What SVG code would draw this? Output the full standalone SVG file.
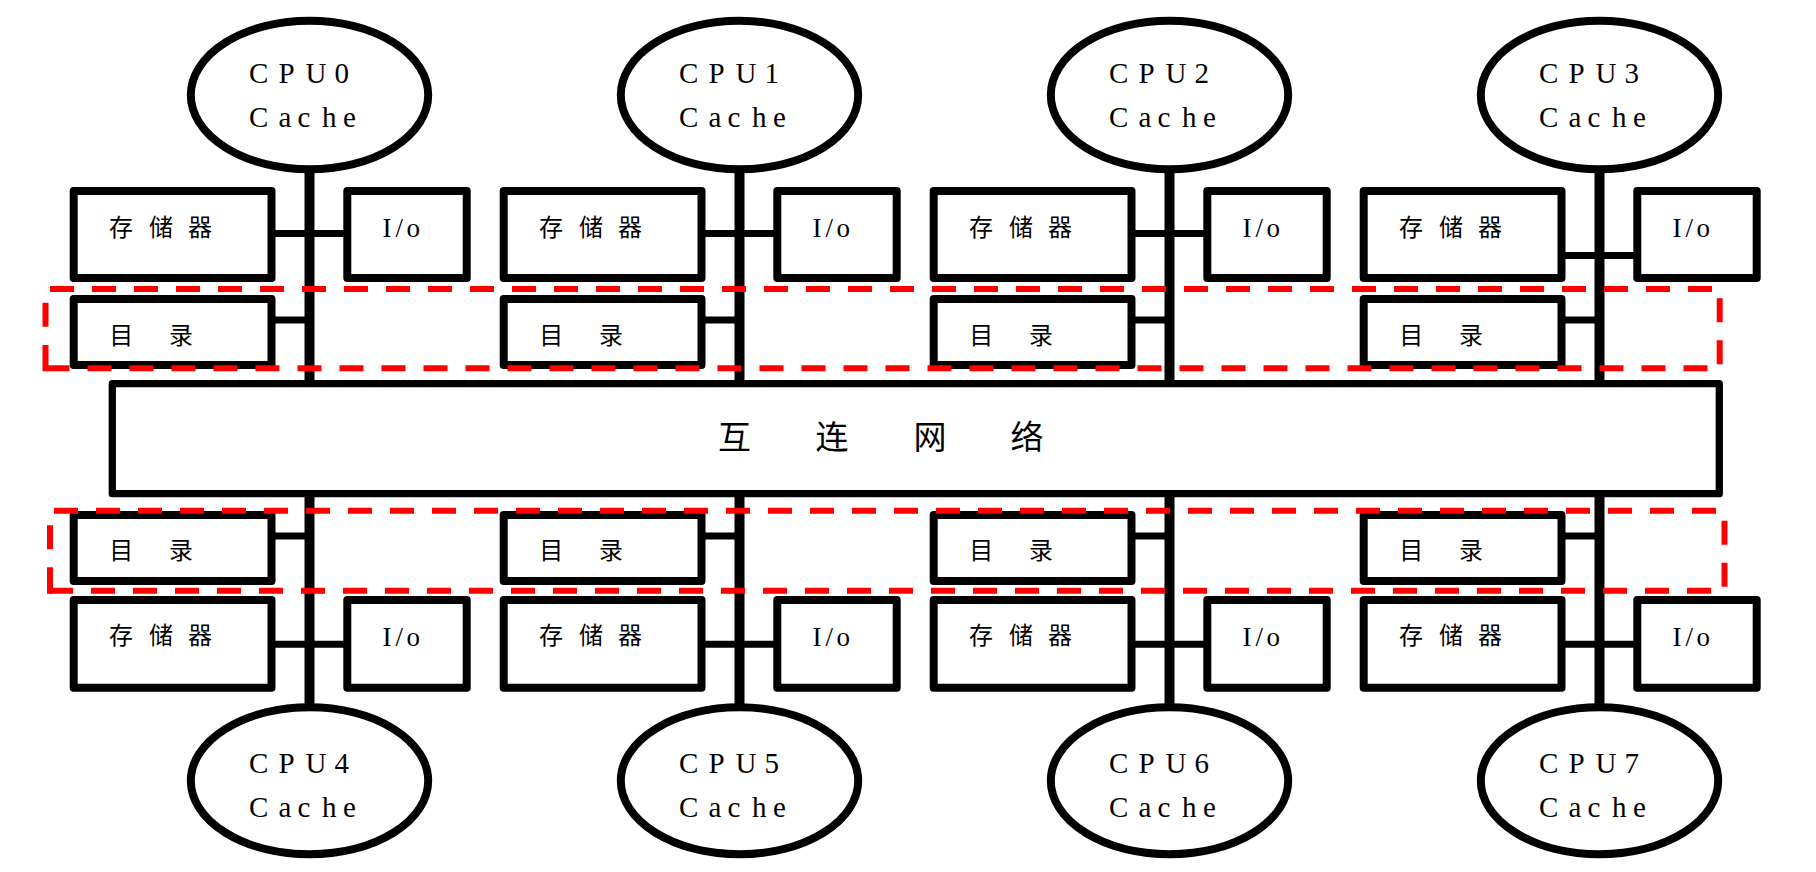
<svg xmlns="http://www.w3.org/2000/svg" width="1816" height="872" viewBox="0 0 1816 872">
<style>
.box{fill:#fff;stroke:#000;stroke-width:8;stroke-linejoin:round}
.net{fill:#fff;stroke:#000;stroke-width:7.3;stroke-linejoin:round}
.cpu{fill:#fff;stroke:#000;stroke-width:8}
.bus{stroke:#000;stroke-width:10;fill:none}
.wire{stroke:#000;stroke-width:7;fill:none}
.dash{stroke:#ff0000;stroke-width:6;fill:none;stroke-dasharray:24 18}
.lat{font-family:"Liberation Serif","Times New Roman",serif;fill:#000}
.cpu-t{font-size:29px}
.io-t{font-size:27px}
.cjk{font-family:"Noto Sans CJK SC","Noto Sans",sans-serif;fill:#000;font-size:24px}
.big{font-size:33px}
</style>
<rect width="1816" height="872" fill="#fff"/>
<g id="connectors">
  <path class="bus" d="M309.5 169 V384 M739.5 169 V384 M1169.5 169 V384 M1599.5 169 V384"/>
  <path class="bus" d="M309.5 493.7 V708 M739.5 493.7 V708 M1169.5 493.7 V708 M1599.5 493.7 V708"/>
  <path class="wire" d="M271.5 233.5 H347.3 M701.5 233.5 H777.3 M1131.5 233.5 H1207.3 M1561.5 255.5 H1637.3"/>
  <path class="wire" d="M271.5 320 H309.5 M701.5 320 H739.5 M1131.5 320 H1169.5 M1561.5 320 H1599.5"/>
  <path class="wire" d="M271.5 536 H309.5 M701.5 536 H739.5 M1131.5 536 H1169.5 M1561.5 536 H1599.5"/>
  <path class="wire" d="M271.5 644.3 H347.3 M701.5 644.3 H777.3 M1131.5 644.3 H1207.3 M1561.5 644.3 H1637.3"/>
</g>
<g id="network">
  <rect class="net" x="112.3" y="383.7" width="1607" height="110"/>
  <text class="cjk big" x="718 815.5 913.5 1010.5" y="449">互连网络</text>
</g>
<g id="cpu0"><ellipse class="cpu" cx="309.5" cy="95" rx="118.7" ry="74.3"/><text class="lat cpu-t" x="249 278.5 305.5 334.5" y="82.7">CPU0</text><text class="lat cpu-t" x="249 278.5 297.5 322 343" y="126.7">Cache</text></g>
<g id="cpu1"><ellipse class="cpu" cx="739.5" cy="95" rx="118.7" ry="74.3"/><text class="lat cpu-t" x="679 708.5 735.5 764.5" y="82.7">CPU1</text><text class="lat cpu-t" x="679 708.5 727.5 752 773" y="126.7">Cache</text></g>
<g id="cpu2"><ellipse class="cpu" cx="1169.5" cy="95" rx="118.7" ry="74.3"/><text class="lat cpu-t" x="1109 1138.5 1165.5 1194.5" y="82.7">CPU2</text><text class="lat cpu-t" x="1109 1138.5 1157.5 1182 1203" y="126.7">Cache</text></g>
<g id="cpu3"><ellipse class="cpu" cx="1599.5" cy="95" rx="118.7" ry="74.3"/><text class="lat cpu-t" x="1539 1568.5 1595.5 1624.5" y="82.7">CPU3</text><text class="lat cpu-t" x="1539 1568.5 1587.5 1612 1633" y="126.7">Cache</text></g>
<g id="cpu4"><ellipse class="cpu" cx="309.5" cy="780.8" rx="118.7" ry="73.5"/><text class="lat cpu-t" x="249 278.5 305.5 334.5" y="773.3">CPU4</text><text class="lat cpu-t" x="249 278.5 297.5 322 343" y="816.7">Cache</text></g>
<g id="cpu5"><ellipse class="cpu" cx="739.5" cy="780.8" rx="118.7" ry="73.5"/><text class="lat cpu-t" x="679 708.5 735.5 764.5" y="773.3">CPU5</text><text class="lat cpu-t" x="679 708.5 727.5 752 773" y="816.7">Cache</text></g>
<g id="cpu6"><ellipse class="cpu" cx="1169.5" cy="780.8" rx="118.7" ry="73.5"/><text class="lat cpu-t" x="1109 1138.5 1165.5 1194.5" y="773.3">CPU6</text><text class="lat cpu-t" x="1109 1138.5 1157.5 1182 1203" y="816.7">Cache</text></g>
<g id="cpu7"><ellipse class="cpu" cx="1599.5" cy="780.8" rx="118.7" ry="73.5"/><text class="lat cpu-t" x="1539 1568.5 1595.5 1624.5" y="773.3">CPU7</text><text class="lat cpu-t" x="1539 1568.5 1587.5 1612 1633" y="816.7">Cache</text></g>
<g id="mem0"><rect class="box" x="73.7" y="191" width="197.8" height="87"/><text class="cjk" x="109 149 188" y="235.5">存储器</text></g>
<g id="mem1"><rect class="box" x="503.7" y="191" width="197.8" height="87"/><text class="cjk" x="539 579 618" y="235.5">存储器</text></g>
<g id="mem2"><rect class="box" x="933.7" y="191" width="197.8" height="87"/><text class="cjk" x="969 1009 1048" y="235.5">存储器</text></g>
<g id="mem3"><rect class="box" x="1363.7" y="191" width="197.8" height="87"/><text class="cjk" x="1399 1439 1478" y="235.5">存储器</text></g>
<g id="io0"><rect class="box" x="347.3" y="191" width="119.4" height="87"/><text class="lat io-t" x="382.5 395.5 406.5" y="237.3">I/o</text></g>
<g id="io1"><rect class="box" x="777.3" y="191" width="119.4" height="87"/><text class="lat io-t" x="812.5 825.5 836.5" y="237.3">I/o</text></g>
<g id="io2"><rect class="box" x="1207.3" y="191" width="119.4" height="87"/><text class="lat io-t" x="1242.5 1255.5 1266.5" y="237.3">I/o</text></g>
<g id="io3"><rect class="box" x="1637.3" y="191" width="119.4" height="87"/><text class="lat io-t" x="1672.5 1685.5 1696.5" y="237.3">I/o</text></g>
<g id="dir0"><rect class="box" x="73.7" y="299" width="197.8" height="66"/><text class="cjk" x="109.3 169" y="343.5">目录</text></g>
<g id="dir1"><rect class="box" x="503.7" y="299" width="197.8" height="66"/><text class="cjk" x="539.3 599" y="343.5">目录</text></g>
<g id="dir2"><rect class="box" x="933.7" y="299" width="197.8" height="66"/><text class="cjk" x="969.3 1029" y="343.5">目录</text></g>
<g id="dir3"><rect class="box" x="1363.7" y="299" width="197.8" height="66"/><text class="cjk" x="1399.3 1459" y="343.5">目录</text></g>
<g id="dir4"><rect class="box" x="73.7" y="515" width="197.8" height="66"/><text class="cjk" x="109.3 169" y="558.5">目录</text></g>
<g id="dir5"><rect class="box" x="503.7" y="515" width="197.8" height="66"/><text class="cjk" x="539.3 599" y="558.5">目录</text></g>
<g id="dir6"><rect class="box" x="933.7" y="515" width="197.8" height="66"/><text class="cjk" x="969.3 1029" y="558.5">目录</text></g>
<g id="dir7"><rect class="box" x="1363.7" y="515" width="197.8" height="66"/><text class="cjk" x="1399.3 1459" y="558.5">目录</text></g>
<g id="mem4"><rect class="box" x="73.7" y="600" width="197.8" height="87.7"/><text class="cjk" x="109 149 188" y="644">存储器</text></g>
<g id="mem5"><rect class="box" x="503.7" y="600" width="197.8" height="87.7"/><text class="cjk" x="539 579 618" y="644">存储器</text></g>
<g id="mem6"><rect class="box" x="933.7" y="600" width="197.8" height="87.7"/><text class="cjk" x="969 1009 1048" y="644">存储器</text></g>
<g id="mem7"><rect class="box" x="1363.7" y="600" width="197.8" height="87.7"/><text class="cjk" x="1399 1439 1478" y="644">存储器</text></g>
<g id="io4"><rect class="box" x="347.3" y="600" width="119.4" height="87.7"/><text class="lat io-t" x="382.5 395.5 406.5" y="645.7">I/o</text></g>
<g id="io5"><rect class="box" x="777.3" y="600" width="119.4" height="87.7"/><text class="lat io-t" x="812.5 825.5 836.5" y="645.7">I/o</text></g>
<g id="io6"><rect class="box" x="1207.3" y="600" width="119.4" height="87.7"/><text class="lat io-t" x="1242.5 1255.5 1266.5" y="645.7">I/o</text></g>
<g id="io7"><rect class="box" x="1637.3" y="600" width="119.4" height="87.7"/><text class="lat io-t" x="1672.5 1685.5 1696.5" y="645.7">I/o</text></g>
<g id="dir-group-top">
  <path class="dash" d="M50 289 H1722.7"/>
  <path class="dash" d="M1719.7 298.3 V371.3"/>
  <path class="dash" d="M45.5 368.3 H1722.7"/>
  <path class="dash" style="stroke-dasharray:26.3 18.3 24 18" d="M45.5 371.3 V289"/>
</g>
<g id="dir-group-bottom">
  <path class="dash" d="M54 510.8 H1727.5"/>
  <path class="dash" d="M1724.5 520.7 V593.8"/>
  <path class="dash" d="M49 590.8 H1727.5"/>
  <path class="dash" style="stroke-dasharray:26.5 18 24 18" d="M50 593.8 V510.8"/>
</g>
</svg>
